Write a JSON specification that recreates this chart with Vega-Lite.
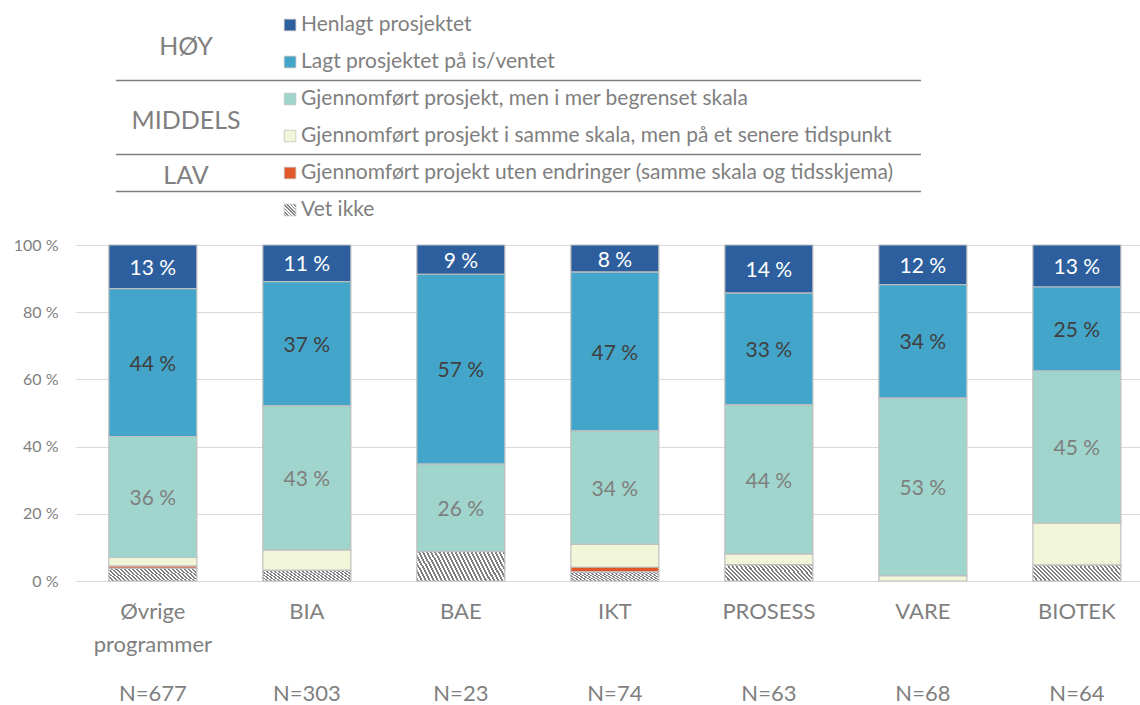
{
  "$schema": "https://vega.github.io/schema/vega-lite/v6.json",
  "padding": {"left": 13, "top": 0, "right": 0, "bottom": 0},
  "config": {"font": "Lato", "view": {"stroke": null}},
  "datasets": {
    "legend": [
      {"cat": "Henlagt prosjektet", "group": "HØY"},
      {"cat": "Lagt prosjektet på is/ventet", "group": "HØY"},
      {"cat": "Gjennomført prosjekt, men i mer begrenset skala", "group": "MIDDELS"},
      {"cat": "Gjennomført prosjekt i samme skala, men på et senere tidspunkt", "group": "MIDDELS"},
      {"cat": "Gjennomført projekt uten endringer (samme skala og tidsskjema)", "group": "LAV"},
      {"cat": "Vet ikke"}
    ],
    "programs": [
      {"program": "Øvrige programmer", "n": 677},
      {"program": "BIA", "n": 303},
      {"program": "BAE", "n": 23},
      {"program": "IKT", "n": 74},
      {"program": "PROSESS", "n": 63},
      {"program": "VARE", "n": 68},
      {"program": "BIOTEK", "n": 64}
    ],
    "segments": [
      {"program": "Øvrige programmer", "cat": "Henlagt prosjektet", "value": 13.0},
      {"program": "Øvrige programmer", "cat": "Lagt prosjektet på is/ventet", "value": 44.0},
      {"program": "Øvrige programmer", "cat": "Gjennomført prosjekt, men i mer begrenset skala", "value": 36.0},
      {"program": "Øvrige programmer", "cat": "Gjennomført prosjekt i samme skala, men på et senere tidspunkt", "value": 2.6},
      {"program": "Øvrige programmer", "cat": "Gjennomført projekt uten endringer (samme skala og tidsskjema)", "value": 0.6},
      {"program": "Øvrige programmer", "cat": "Vet ikke", "value": 3.8},
      {"program": "BIA", "cat": "Henlagt prosjektet", "value": 10.9},
      {"program": "BIA", "cat": "Lagt prosjektet på is/ventet", "value": 37.0},
      {"program": "BIA", "cat": "Gjennomført prosjekt, men i mer begrenset skala", "value": 42.9},
      {"program": "BIA", "cat": "Gjennomført prosjekt i samme skala, men på et senere tidspunkt", "value": 6.0},
      {"program": "BIA", "cat": "Vet ikke", "value": 3.2},
      {"program": "BAE", "cat": "Henlagt prosjektet", "value": 8.7},
      {"program": "BAE", "cat": "Lagt prosjektet på is/ventet", "value": 56.5},
      {"program": "BAE", "cat": "Gjennomført prosjekt, men i mer begrenset skala", "value": 26.1},
      {"program": "BAE", "cat": "Vet ikke", "value": 8.7},
      {"program": "IKT", "cat": "Henlagt prosjektet", "value": 8.1},
      {"program": "IKT", "cat": "Lagt prosjektet på is/ventet", "value": 47.3},
      {"program": "IKT", "cat": "Gjennomført prosjekt, men i mer begrenset skala", "value": 33.8},
      {"program": "IKT", "cat": "Gjennomført prosjekt i samme skala, men på et senere tidspunkt", "value": 6.8},
      {"program": "IKT", "cat": "Gjennomført projekt uten endringer (samme skala og tidsskjema)", "value": 1.4},
      {"program": "IKT", "cat": "Vet ikke", "value": 2.7},
      {"program": "PROSESS", "cat": "Henlagt prosjektet", "value": 14.3},
      {"program": "PROSESS", "cat": "Lagt prosjektet på is/ventet", "value": 33.3},
      {"program": "PROSESS", "cat": "Gjennomført prosjekt, men i mer begrenset skala", "value": 44.4},
      {"program": "PROSESS", "cat": "Gjennomført prosjekt i samme skala, men på et senere tidspunkt", "value": 3.2},
      {"program": "PROSESS", "cat": "Vet ikke", "value": 4.8},
      {"program": "VARE", "cat": "Henlagt prosjektet", "value": 11.8},
      {"program": "VARE", "cat": "Lagt prosjektet på is/ventet", "value": 33.8},
      {"program": "VARE", "cat": "Gjennomført prosjekt, men i mer begrenset skala", "value": 52.9},
      {"program": "VARE", "cat": "Gjennomført prosjekt i samme skala, men på et senere tidspunkt", "value": 1.5},
      {"program": "BIOTEK", "cat": "Henlagt prosjektet", "value": 12.5},
      {"program": "BIOTEK", "cat": "Lagt prosjektet på is/ventet", "value": 25.0},
      {"program": "BIOTEK", "cat": "Gjennomført prosjekt, men i mer begrenset skala", "value": 45.3},
      {"program": "BIOTEK", "cat": "Gjennomført prosjekt i samme skala, men på et senere tidspunkt", "value": 12.5},
      {"program": "BIOTEK", "cat": "Vet ikke", "value": 4.7}
    ]
  },
  "bounds": "flush",
  "spacing": 23,
  "resolve": {"scale": {"x": "independent", "y": "independent", "fill": "independent", "color": "independent"}},
  "vconcat": [
    {
      "width": 1065,
      "height": 222,
      "data": {"name": "legend"},
      "transform": [
        {"window": [{"op": "row_number", "as": "rn"}]},
        {"calculate": "datum.rn - 1", "as": "row"}
      ],
      "layer": [
        {
          "mark": {"type": "point", "shape": "square", "filled": true, "size": 135, "stroke": "#bfbfbf", "strokeWidth": 0.75, "opacity": 1},
          "encoding": {
            "x": {"datum": 20.1, "type": "quantitative", "scale": {"domain": [0, 100], "nice": false, "zero": false}, "axis": null},
            "y": {"field": "row", "type": "quantitative", "scale": {"domain": [-0.676, 5.324], "reverse": true, "nice": false, "zero": false}, "axis": null},
            "fill": {
              "condition": {"test": "datum.cat === 'Vet ikke'", "value": {"gradient": "linear", "x1": 0, "y1": 1, "x2": 1, "y2": 0, "stops": [
                {"offset": 0, "color": "#7f7f7f"}, {"offset": 0.0714, "color": "#7f7f7f"}, {"offset": 0.0714, "color": "#ffffff"}, {"offset": 0.1429, "color": "#ffffff"},
                {"offset": 0.1429, "color": "#7f7f7f"}, {"offset": 0.2143, "color": "#7f7f7f"}, {"offset": 0.2143, "color": "#ffffff"}, {"offset": 0.2857, "color": "#ffffff"},
                {"offset": 0.2857, "color": "#7f7f7f"}, {"offset": 0.3571, "color": "#7f7f7f"}, {"offset": 0.3571, "color": "#ffffff"}, {"offset": 0.4286, "color": "#ffffff"},
                {"offset": 0.4286, "color": "#7f7f7f"}, {"offset": 0.5, "color": "#7f7f7f"}, {"offset": 0.5, "color": "#ffffff"}, {"offset": 0.5714, "color": "#ffffff"},
                {"offset": 0.5714, "color": "#7f7f7f"}, {"offset": 0.6429, "color": "#7f7f7f"}, {"offset": 0.6429, "color": "#ffffff"}, {"offset": 0.7143, "color": "#ffffff"},
                {"offset": 0.7143, "color": "#7f7f7f"}, {"offset": 0.7857, "color": "#7f7f7f"}, {"offset": 0.7857, "color": "#ffffff"}, {"offset": 0.8571, "color": "#ffffff"},
                {"offset": 0.8571, "color": "#7f7f7f"}, {"offset": 0.9286, "color": "#7f7f7f"}, {"offset": 0.9286, "color": "#ffffff"}, {"offset": 1, "color": "#ffffff"}
              ]}},
              "field": "cat", "type": "nominal",
              "scale": {
                "domain": ["Henlagt prosjektet", "Lagt prosjektet på is/ventet", "Gjennomført prosjekt, men i mer begrenset skala", "Gjennomført prosjekt i samme skala, men på et senere tidspunkt", "Gjennomført projekt uten endringer (samme skala og tidsskjema)", "Vet ikke"],
                "range": ["#2d5f9e", "#43a5ca", "#9fd5cc", "#f2f6d8", "#e2582a", "#bfbfbf"]
              },
              "legend": null
            }
          }
        },
        {
          "mark": {"type": "text", "align": "left", "baseline": "middle", "fontSize": 21, "color": "#7f7f7f"},
          "encoding": {
            "x": {"datum": 21.13, "type": "quantitative"},
            "y": {"field": "row", "type": "quantitative"},
            "text": {"field": "cat"}
          }
        },
        {
          "transform": [
            {"filter": "isValid(datum.group)"},
            {"aggregate": [{"op": "mean", "field": "row", "as": "gmid"}], "groupby": ["group"]}
          ],
          "mark": {"type": "text", "align": "center", "baseline": "middle", "fontSize": 25, "dy": 3, "color": "#7f7f7f"},
          "encoding": {
            "x": {"datum": 10.33, "type": "quantitative"},
            "y": {"field": "gmid", "type": "quantitative"},
            "text": {"field": "group"}
          }
        },
        {
          "transform": [
            {"filter": "isValid(datum.group)"},
            {"aggregate": [{"op": "max", "field": "row", "as": "gmax"}], "groupby": ["group"]},
            {"calculate": "datum.gmax + 0.5", "as": "liney"}
          ],
          "mark": {"type": "rule", "color": "#7f7f7f", "strokeWidth": 1.5},
          "encoding": {
            "x": {"datum": 3.76, "type": "quantitative"},
            "x2": {"datum": 79.34},
            "y": {"field": "liney", "type": "quantitative"}
          }
        }
      ]
    },
    {
      "width": 1065,
      "height": 336,
      "layer": [
        {
          "data": {"name": "segments"},
          "transform": [
            {"calculate": "indexof(['Vet ikke', 'Gjennomført projekt uten endringer (samme skala og tidsskjema)', 'Gjennomført prosjekt i samme skala, men på et senere tidspunkt', 'Gjennomført prosjekt, men i mer begrenset skala', 'Lagt prosjektet på is/ventet', 'Henlagt prosjektet'], datum.cat)", "as": "ord"},
            {"stack": "value", "groupby": ["program"], "sort": [{"field": "ord", "order": "ascending"}], "offset": "normalize", "as": ["y0", "y1"]}
          ],
          "mark": {"type": "bar", "stroke": "#bfbfbf", "strokeWidth": 1.2},
          "encoding": {
            "x": {
              "field": "program", "type": "nominal",
              "sort": ["Øvrige programmer", "BIA", "BAE", "IKT", "PROSESS", "VARE", "BIOTEK"],
              "scale": {"paddingInner": 0.4286, "paddingOuter": 0.172, "align": 0.62},
              "axis": {"title": null, "domain": false, "ticks": false, "labelAngle": 0, "labelFontSize": 22, "labelColor": "#7f7f7f", "labelPadding": 20, "labelLineHeight": 33, "labelExpr": "split(datum.value, ' ')"}
            },
            "y": {
              "field": "y0", "type": "quantitative",
              "scale": {"domain": [0, 1]},
              "axis": {"title": null, "values": [0, 0.2, 0.4, 0.6, 0.8, 1], "labelExpr": "round(datum.value * 100) + ' %'", "domain": false, "ticks": false, "grid": true, "gridColor": "#d9d9d9", "gridWidth": 1, "labelFontSize": 16, "labelColor": "#7f7f7f", "labelPadding": 18}
            },
            "y2": {"field": "y1"},
            "fill": {
              "condition": {"test": "datum.cat === 'Vet ikke'", "value": {"gradient": "linear", "x1": 0, "y1": 1, "x2": 1.2, "y2": 0.796, "stops": [
                {"offset": 0, "color": "#7f7f7f"}, {"offset": 0.0185, "color": "#7f7f7f"}, {"offset": 0.0185, "color": "#ffffff"}, {"offset": 0.037, "color": "#ffffff"},
                {"offset": 0.037, "color": "#7f7f7f"}, {"offset": 0.0556, "color": "#7f7f7f"}, {"offset": 0.0556, "color": "#ffffff"}, {"offset": 0.0741, "color": "#ffffff"},
                {"offset": 0.0741, "color": "#7f7f7f"}, {"offset": 0.0926, "color": "#7f7f7f"}, {"offset": 0.0926, "color": "#ffffff"}, {"offset": 0.1111, "color": "#ffffff"},
                {"offset": 0.1111, "color": "#7f7f7f"}, {"offset": 0.1296, "color": "#7f7f7f"}, {"offset": 0.1296, "color": "#ffffff"}, {"offset": 0.1481, "color": "#ffffff"},
                {"offset": 0.1481, "color": "#7f7f7f"}, {"offset": 0.1667, "color": "#7f7f7f"}, {"offset": 0.1667, "color": "#ffffff"}, {"offset": 0.1852, "color": "#ffffff"},
                {"offset": 0.1852, "color": "#7f7f7f"}, {"offset": 0.2037, "color": "#7f7f7f"}, {"offset": 0.2037, "color": "#ffffff"}, {"offset": 0.2222, "color": "#ffffff"},
                {"offset": 0.2222, "color": "#7f7f7f"}, {"offset": 0.2407, "color": "#7f7f7f"}, {"offset": 0.2407, "color": "#ffffff"}, {"offset": 0.2593, "color": "#ffffff"},
                {"offset": 0.2593, "color": "#7f7f7f"}, {"offset": 0.2778, "color": "#7f7f7f"}, {"offset": 0.2778, "color": "#ffffff"}, {"offset": 0.2963, "color": "#ffffff"},
                {"offset": 0.2963, "color": "#7f7f7f"}, {"offset": 0.3148, "color": "#7f7f7f"}, {"offset": 0.3148, "color": "#ffffff"}, {"offset": 0.3333, "color": "#ffffff"},
                {"offset": 0.3333, "color": "#7f7f7f"}, {"offset": 0.3519, "color": "#7f7f7f"}, {"offset": 0.3519, "color": "#ffffff"}, {"offset": 0.3704, "color": "#ffffff"},
                {"offset": 0.3704, "color": "#7f7f7f"}, {"offset": 0.3889, "color": "#7f7f7f"}, {"offset": 0.3889, "color": "#ffffff"}, {"offset": 0.4074, "color": "#ffffff"},
                {"offset": 0.4074, "color": "#7f7f7f"}, {"offset": 0.4259, "color": "#7f7f7f"}, {"offset": 0.4259, "color": "#ffffff"}, {"offset": 0.4444, "color": "#ffffff"},
                {"offset": 0.4444, "color": "#7f7f7f"}, {"offset": 0.463, "color": "#7f7f7f"}, {"offset": 0.463, "color": "#ffffff"}, {"offset": 0.4815, "color": "#ffffff"},
                {"offset": 0.4815, "color": "#7f7f7f"}, {"offset": 0.5, "color": "#7f7f7f"}, {"offset": 0.5, "color": "#ffffff"}, {"offset": 0.5185, "color": "#ffffff"},
                {"offset": 0.5185, "color": "#7f7f7f"}, {"offset": 0.537, "color": "#7f7f7f"}, {"offset": 0.537, "color": "#ffffff"}, {"offset": 0.5556, "color": "#ffffff"},
                {"offset": 0.5556, "color": "#7f7f7f"}, {"offset": 0.5741, "color": "#7f7f7f"}, {"offset": 0.5741, "color": "#ffffff"}, {"offset": 0.5926, "color": "#ffffff"},
                {"offset": 0.5926, "color": "#7f7f7f"}, {"offset": 0.6111, "color": "#7f7f7f"}, {"offset": 0.6111, "color": "#ffffff"}, {"offset": 0.6296, "color": "#ffffff"},
                {"offset": 0.6296, "color": "#7f7f7f"}, {"offset": 0.6481, "color": "#7f7f7f"}, {"offset": 0.6481, "color": "#ffffff"}, {"offset": 0.6667, "color": "#ffffff"},
                {"offset": 0.6667, "color": "#7f7f7f"}, {"offset": 0.6852, "color": "#7f7f7f"}, {"offset": 0.6852, "color": "#ffffff"}, {"offset": 0.7037, "color": "#ffffff"},
                {"offset": 0.7037, "color": "#7f7f7f"}, {"offset": 0.7222, "color": "#7f7f7f"}, {"offset": 0.7222, "color": "#ffffff"}, {"offset": 0.7407, "color": "#ffffff"},
                {"offset": 0.7407, "color": "#7f7f7f"}, {"offset": 0.7593, "color": "#7f7f7f"}, {"offset": 0.7593, "color": "#ffffff"}, {"offset": 0.7778, "color": "#ffffff"},
                {"offset": 0.7778, "color": "#7f7f7f"}, {"offset": 0.7963, "color": "#7f7f7f"}, {"offset": 0.7963, "color": "#ffffff"}, {"offset": 0.8148, "color": "#ffffff"},
                {"offset": 0.8148, "color": "#7f7f7f"}, {"offset": 0.8333, "color": "#7f7f7f"}, {"offset": 0.8333, "color": "#ffffff"}, {"offset": 0.8519, "color": "#ffffff"},
                {"offset": 0.8519, "color": "#7f7f7f"}, {"offset": 0.8704, "color": "#7f7f7f"}, {"offset": 0.8704, "color": "#ffffff"}, {"offset": 0.8889, "color": "#ffffff"},
                {"offset": 0.8889, "color": "#7f7f7f"}, {"offset": 0.9074, "color": "#7f7f7f"}, {"offset": 0.9074, "color": "#ffffff"}, {"offset": 0.9259, "color": "#ffffff"},
                {"offset": 0.9259, "color": "#7f7f7f"}, {"offset": 0.9444, "color": "#7f7f7f"}, {"offset": 0.9444, "color": "#ffffff"}, {"offset": 0.963, "color": "#ffffff"},
                {"offset": 0.963, "color": "#7f7f7f"}, {"offset": 0.9815, "color": "#7f7f7f"}, {"offset": 0.9815, "color": "#ffffff"}, {"offset": 1, "color": "#ffffff"}
              ]}},
              "field": "cat", "type": "nominal",
              "scale": {
                "domain": ["Henlagt prosjektet", "Lagt prosjektet på is/ventet", "Gjennomført prosjekt, men i mer begrenset skala", "Gjennomført prosjekt i samme skala, men på et senere tidspunkt", "Gjennomført projekt uten endringer (samme skala og tidsskjema)", "Vet ikke"],
                "range": ["#2d5f9e", "#43a5ca", "#9fd5cc", "#f2f6d8", "#e2582a", "#bfbfbf"]
              },
              "legend": null
            }
          }
        },
        {
          "data": {"name": "segments"},
          "transform": [
            {"calculate": "indexof(['Vet ikke', 'Gjennomført projekt uten endringer (samme skala og tidsskjema)', 'Gjennomført prosjekt i samme skala, men på et senere tidspunkt', 'Gjennomført prosjekt, men i mer begrenset skala', 'Lagt prosjektet på is/ventet', 'Henlagt prosjektet'], datum.cat)", "as": "ord"},
            {"stack": "value", "groupby": ["program"], "sort": [{"field": "ord", "order": "ascending"}], "offset": "normalize", "as": ["y0", "y1"]},
            {"calculate": "(datum.y0 + datum.y1) / 2", "as": "ymid"},
            {"calculate": "round(datum.value) + ' %'", "as": "label"},
            {"filter": "datum.ord >= 3"}
          ],
          "mark": {"type": "text", "fontSize": 21, "baseline": "middle", "align": "center", "dy": 2},
          "encoding": {
            "x": {"field": "program", "type": "nominal", "sort": ["Øvrige programmer", "BIA", "BAE", "IKT", "PROSESS", "VARE", "BIOTEK"]},
            "y": {"field": "ymid", "type": "quantitative", "scale": {"domain": [0, 1]}},
            "text": {"field": "label"},
            "color": {
              "condition": [
                {"test": "datum.ord === 5", "value": "#ffffff"},
                {"test": "datum.ord === 4", "value": "#404040"}
              ],
              "value": "#7f7f7f"
            }
          }
        },
        {
          "data": {"name": "programs"},
          "transform": [{"calculate": "'N=' + datum.n", "as": "nlabel"}],
          "mark": {"type": "text", "fontSize": 22, "baseline": "middle", "align": "center", "color": "#7f7f7f"},
          "encoding": {
            "x": {"field": "program", "type": "nominal", "sort": ["Øvrige programmer", "BIA", "BAE", "IKT", "PROSESS", "VARE", "BIOTEK"]},
            "y": {"datum": -0.336, "type": "quantitative", "scale": {"domain": [0, 1]}},
            "text": {"field": "nlabel"}
          }
        }
      ]
    }
  ]
}
